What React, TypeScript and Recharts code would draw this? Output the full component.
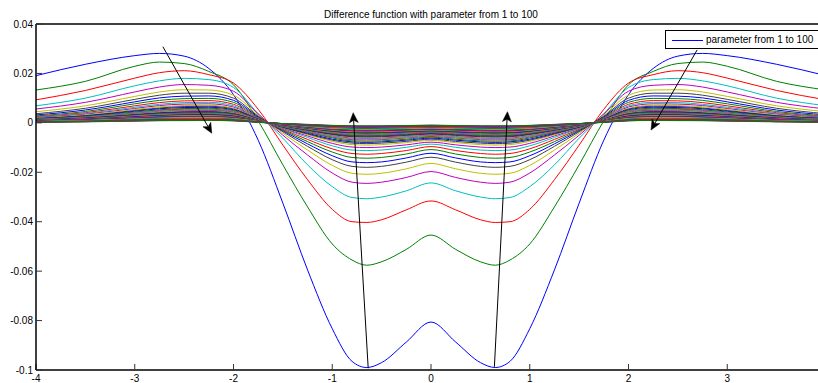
import React from 'react';
import { LineChart, Line, XAxis, YAxis, ReferenceLine, Legend } from 'recharts';

const FONT = '"Liberation Sans", Arial, sans-serif';
const TITLE = 'Difference function with parameter from 1 to 100';
const LEGEND_LABEL = 'parameter from 1 to 100';

const X = [-4, -3.5, -3, -2.75, -2.5, -2.25, -2, -1.75, -1.5, -1.25, -1, -0.8, -0.65, -0.5, -0.25, 0, 0.25, 0.5, 0.65, 0.8, 1, 1.25, 1.5, 1.75, 2, 2.25, 2.5, 2.75, 3, 3.5, 4];
// x = 4 lies just outside the visible picture, so only -4..3 carry labels
const X_TICKS = [-4, -3, -2, -1, 0, 1, 2, 3];
const X_TICKS_TOP = [-4, -3, -2, -1, 0, 1, 2, 3, 4];
const Y_TICKS = [-0.1, -0.08, -0.06, -0.04, -0.02, 0, 0.02, 0.04];

const p1 = [0.0191, 0.0237, 0.0272, 0.0281, 0.0270, 0.0220, 0.0114, -0.0070, -0.0325, -0.0595, -0.0833, -0.0965, -0.0990, -0.0970, -0.0887, -0.0806, -0.0887, -0.0970, -0.0990, -0.0965, -0.0833, -0.0595, -0.0325, -0.0070, 0.0114, 0.0220, 0.0270, 0.0281, 0.0272, 0.0237, 0.0191];
const p2 = [0.0133, 0.0168, 0.0229, 0.0246, 0.0240, 0.0208, 0.0154, 0.0008, -0.0170, -0.0340, -0.0490, -0.0555, -0.0576, -0.0562, -0.0512, -0.0454, -0.0512, -0.0562, -0.0576, -0.0555, -0.0490, -0.0340, -0.0170, 0.0008, 0.0154, 0.0208, 0.0240, 0.0246, 0.0229, 0.0168, 0.0133];
const p3 = [0.0093, 0.0131, 0.0181, 0.0203, 0.0211, 0.0195, 0.0161, 0.0055, -0.0090, -0.0230, -0.0350, -0.0400, -0.0403, -0.0392, -0.0352, -0.0316, -0.0352, -0.0392, -0.0403, -0.0400, -0.0350, -0.0230, -0.0090, 0.0055, 0.0161, 0.0195, 0.0211, 0.0203, 0.0181, 0.0131, 0.0093];
const p4 = [0.0069, 0.0100, 0.0150, 0.0170, 0.0180, 0.0175, 0.0143, 0.0037, -0.0062, -0.0170, -0.0258, -0.0302, -0.0307, -0.0300, -0.0275, -0.0243, -0.0275, -0.0300, -0.0307, -0.0302, -0.0258, -0.0170, -0.0062, 0.0037, 0.0143, 0.0175, 0.0180, 0.0170, 0.0150, 0.0100, 0.0069];
const p5 = [0.0056, 0.0083, 0.0125, 0.0145, 0.0155, 0.0152, 0.0128, 0.0036, -0.0050, -0.0130, -0.0203, -0.0240, -0.0245, -0.0240, -0.0221, -0.0197, -0.0221, -0.0240, -0.0245, -0.0240, -0.0203, -0.0130, -0.0050, 0.0036, 0.0128, 0.0152, 0.0155, 0.0145, 0.0125, 0.0083, 0.0056];
const p6 = [0.0045, 0.0069, 0.0107, 0.0125, 0.0134, 0.0133, 0.0112, 0.0031, -0.0042, -0.0110, -0.0172, -0.0204, -0.0208, -0.0204, -0.0186, -0.0164, -0.0186, -0.0204, -0.0208, -0.0204, -0.0172, -0.0110, -0.0042, 0.0031, 0.0112, 0.0133, 0.0134, 0.0125, 0.0107, 0.0069, 0.0045];
const p7 = [0.0037, 0.0059, 0.0095, 0.0112, 0.0120, 0.0120, 0.0100, 0.0027, -0.0036, -0.0095, -0.0149, -0.0176, -0.0180, -0.0176, -0.0159, -0.0139, -0.0159, -0.0176, -0.0180, -0.0176, -0.0149, -0.0095, -0.0036, 0.0027, 0.0100, 0.0120, 0.0120, 0.0112, 0.0095, 0.0059, 0.0037];
const p8 = [0.0032, 0.0052, 0.0085, 0.0101, 0.0108, 0.0109, 0.0091, 0.0024, -0.0032, -0.0085, -0.0133, -0.0158, -0.0161, -0.0158, -0.0142, -0.0123, -0.0142, -0.0158, -0.0161, -0.0158, -0.0133, -0.0085, -0.0032, 0.0024, 0.0091, 0.0109, 0.0108, 0.0101, 0.0085, 0.0052, 0.0032];
const p9 = [0.0028, 0.0046, 0.0077, 0.0091, 0.0098, 0.0099, 0.0083, 0.0021, -0.0029, -0.0076, -0.0118, -0.0140, -0.0143, -0.0140, -0.0126, -0.0108, -0.0126, -0.0140, -0.0143, -0.0140, -0.0118, -0.0076, -0.0029, 0.0021, 0.0083, 0.0099, 0.0098, 0.0091, 0.0077, 0.0046, 0.0028];
const p10 = [0.0025, 0.0041, 0.0069, 0.0082, 0.0089, 0.0090, 0.0075, 0.0019, -0.0026, -0.0067, -0.0105, -0.0124, -0.0127, -0.0124, -0.0112, -0.0096, -0.0112, -0.0124, -0.0127, -0.0124, -0.0105, -0.0067, -0.0026, 0.0019, 0.0075, 0.0090, 0.0089, 0.0082, 0.0069, 0.0041, 0.0025];
const p11 = [0.0023, 0.0038, 0.0063, 0.0075, 0.0082, 0.0083, 0.0069, 0.0017, -0.0023, -0.0059, -0.0093, -0.0110, -0.0112, -0.0110, -0.0099, -0.0086, -0.0099, -0.0110, -0.0112, -0.0110, -0.0093, -0.0059, -0.0023, 0.0017, 0.0069, 0.0083, 0.0082, 0.0075, 0.0063, 0.0038, 0.0023];
const p12 = [0.0021, 0.0035, 0.0058, 0.0070, 0.0076, 0.0077, 0.0064, 0.0016, -0.0021, -0.0053, -0.0083, -0.0098, -0.0100, -0.0098, -0.0089, -0.0078, -0.0089, -0.0098, -0.0100, -0.0098, -0.0083, -0.0053, -0.0021, 0.0016, 0.0064, 0.0077, 0.0076, 0.0070, 0.0058, 0.0035, 0.0021];
const p13 = [0.0019, 0.0032, 0.0054, 0.0065, 0.0070, 0.0071, 0.0059, 0.0015, -0.0019, -0.0048, -0.0075, -0.0088, -0.0090, -0.0088, -0.0080, -0.0071, -0.0080, -0.0088, -0.0090, -0.0088, -0.0075, -0.0048, -0.0019, 0.0015, 0.0059, 0.0071, 0.0070, 0.0065, 0.0054, 0.0032, 0.0019];
const p14 = [0.0018, 0.0029, 0.0050, 0.0060, 0.0066, 0.0067, 0.0056, 0.0015, -0.0018, -0.0045, -0.0070, -0.0082, -0.0084, -0.0082, -0.0075, -0.0066, -0.0075, -0.0082, -0.0084, -0.0082, -0.0070, -0.0045, -0.0018, 0.0015, 0.0056, 0.0067, 0.0066, 0.0060, 0.0050, 0.0029, 0.0018];
const p15 = [0.0017, 0.0028, 0.0047, 0.0057, 0.0062, 0.0063, 0.0053, 0.0014, -0.0017, -0.0042, -0.0066, -0.0077, -0.0079, -0.0077, -0.0070, -0.0062, -0.0070, -0.0077, -0.0079, -0.0077, -0.0066, -0.0042, -0.0017, 0.0014, 0.0053, 0.0063, 0.0062, 0.0057, 0.0047, 0.0028, 0.0017];
const p16 = [0.0016, 0.0026, 0.0044, 0.0053, 0.0058, 0.0059, 0.0050, 0.0013, -0.0016, -0.0039, -0.0061, -0.0073, -0.0074, -0.0073, -0.0066, -0.0058, -0.0066, -0.0073, -0.0074, -0.0073, -0.0061, -0.0039, -0.0016, 0.0013, 0.0050, 0.0059, 0.0058, 0.0053, 0.0044, 0.0026, 0.0016];
const p17 = [0.0014, 0.0024, 0.0041, 0.0050, 0.0055, 0.0055, 0.0046, 0.0012, -0.0014, -0.0037, -0.0057, -0.0068, -0.0069, -0.0068, -0.0061, -0.0055, -0.0061, -0.0068, -0.0069, -0.0068, -0.0057, -0.0037, -0.0014, 0.0012, 0.0046, 0.0055, 0.0055, 0.0050, 0.0041, 0.0024, 0.0014];
const p18 = [0.0014, 0.0023, 0.0040, 0.0048, 0.0052, 0.0053, 0.0044, 0.0012, -0.0014, -0.0035, -0.0055, -0.0065, -0.0066, -0.0065, -0.0059, -0.0052, -0.0059, -0.0065, -0.0066, -0.0065, -0.0055, -0.0035, -0.0014, 0.0012, 0.0044, 0.0053, 0.0052, 0.0048, 0.0040, 0.0023, 0.0014];
const p19 = [0.0013, 0.0022, 0.0037, 0.0045, 0.0049, 0.0050, 0.0042, 0.0011, -0.0013, -0.0033, -0.0051, -0.0061, -0.0062, -0.0061, -0.0055, -0.0049, -0.0055, -0.0061, -0.0062, -0.0061, -0.0051, -0.0033, -0.0013, 0.0011, 0.0042, 0.0050, 0.0049, 0.0045, 0.0037, 0.0022, 0.0013];
const p20 = [0.0012, 0.0021, 0.0035, 0.0043, 0.0047, 0.0047, 0.0040, 0.0011, -0.0012, -0.0031, -0.0049, -0.0058, -0.0059, -0.0058, -0.0053, -0.0047, -0.0053, -0.0058, -0.0059, -0.0058, -0.0049, -0.0031, -0.0012, 0.0011, 0.0040, 0.0047, 0.0047, 0.0043, 0.0035, 0.0021, 0.0012];
const p21 = [0.0012, 0.0020, 0.0034, 0.0041, 0.0045, 0.0046, 0.0038, 0.0010, -0.0012, -0.0030, -0.0047, -0.0056, -0.0057, -0.0056, -0.0051, -0.0045, -0.0051, -0.0056, -0.0057, -0.0056, -0.0047, -0.0030, -0.0012, 0.0010, 0.0038, 0.0046, 0.0045, 0.0041, 0.0034, 0.0020, 0.0012];
const p22 = [0.0011, 0.0019, 0.0032, 0.0039, 0.0043, 0.0043, 0.0036, 0.0010, -0.0011, -0.0029, -0.0045, -0.0053, -0.0054, -0.0053, -0.0048, -0.0043, -0.0048, -0.0053, -0.0054, -0.0053, -0.0045, -0.0029, -0.0011, 0.0010, 0.0036, 0.0043, 0.0043, 0.0039, 0.0032, 0.0019, 0.0011];
const p23 = [0.0011, 0.0018, 0.0031, 0.0037, 0.0041, 0.0042, 0.0035, 0.0009, -0.0011, -0.0028, -0.0043, -0.0051, -0.0052, -0.0051, -0.0046, -0.0041, -0.0046, -0.0051, -0.0052, -0.0051, -0.0043, -0.0028, -0.0011, 0.0009, 0.0035, 0.0042, 0.0041, 0.0037, 0.0031, 0.0018, 0.0011];
const p24 = [0.0010, 0.0017, 0.0029, 0.0035, 0.0039, 0.0039, 0.0033, 0.0009, -0.0010, -0.0026, -0.0041, -0.0048, -0.0049, -0.0048, -0.0044, -0.0039, -0.0044, -0.0048, -0.0049, -0.0048, -0.0041, -0.0026, -0.0010, 0.0009, 0.0033, 0.0039, 0.0039, 0.0035, 0.0029, 0.0017, 0.0010];
const p25 = [0.0010, 0.0016, 0.0028, 0.0034, 0.0037, 0.0038, 0.0031, 0.0008, -0.0010, -0.0025, -0.0039, -0.0046, -0.0047, -0.0046, -0.0042, -0.0037, -0.0042, -0.0046, -0.0047, -0.0046, -0.0039, -0.0025, -0.0010, 0.0008, 0.0031, 0.0038, 0.0037, 0.0034, 0.0028, 0.0016, 0.0010];
const p26 = [0.0009, 0.0016, 0.0027, 0.0032, 0.0036, 0.0036, 0.0030, 0.0008, -0.0009, -0.0024, -0.0037, -0.0044, -0.0045, -0.0044, -0.0040, -0.0036, -0.0040, -0.0044, -0.0045, -0.0044, -0.0037, -0.0024, -0.0009, 0.0008, 0.0030, 0.0036, 0.0036, 0.0032, 0.0027, 0.0016, 0.0009];
const p27 = [0.0009, 0.0015, 0.0026, 0.0031, 0.0034, 0.0034, 0.0029, 0.0008, -0.0009, -0.0023, -0.0036, -0.0042, -0.0043, -0.0042, -0.0038, -0.0034, -0.0038, -0.0042, -0.0043, -0.0042, -0.0036, -0.0023, -0.0009, 0.0008, 0.0029, 0.0034, 0.0034, 0.0031, 0.0026, 0.0015, 0.0009];
const p28 = [0.0009, 0.0015, 0.0025, 0.0030, 0.0033, 0.0034, 0.0028, 0.0008, -0.0009, -0.0022, -0.0035, -0.0041, -0.0042, -0.0041, -0.0037, -0.0033, -0.0037, -0.0041, -0.0042, -0.0041, -0.0035, -0.0022, -0.0009, 0.0008, 0.0028, 0.0034, 0.0033, 0.0030, 0.0025, 0.0015, 0.0009];
const p29 = [0.0008, 0.0014, 0.0024, 0.0029, 0.0032, 0.0032, 0.0027, 0.0007, -0.0008, -0.0021, -0.0033, -0.0039, -0.0040, -0.0039, -0.0036, -0.0032, -0.0036, -0.0039, -0.0040, -0.0039, -0.0033, -0.0021, -0.0008, 0.0007, 0.0027, 0.0032, 0.0032, 0.0029, 0.0024, 0.0014, 0.0008];
const p30 = [0.0008, 0.0014, 0.0023, 0.0028, 0.0031, 0.0031, 0.0026, 0.0007, -0.0008, -0.0021, -0.0032, -0.0038, -0.0039, -0.0038, -0.0035, -0.0031, -0.0035, -0.0038, -0.0039, -0.0038, -0.0032, -0.0021, -0.0008, 0.0007, 0.0026, 0.0031, 0.0031, 0.0028, 0.0023, 0.0014, 0.0008];
const p33 = [0.0008, 0.0013, 0.0022, 0.0026, 0.0028, 0.0029, 0.0024, 0.0006, -0.0008, -0.0019, -0.0030, -0.0035, -0.0036, -0.0035, -0.0032, -0.0028, -0.0032, -0.0035, -0.0036, -0.0035, -0.0030, -0.0019, -0.0008, 0.0006, 0.0024, 0.0029, 0.0028, 0.0026, 0.0022, 0.0013, 0.0008];
const p34 = [0.0007, 0.0012, 0.0021, 0.0025, 0.0028, 0.0028, 0.0023, 0.0006, -0.0007, -0.0019, -0.0029, -0.0034, -0.0035, -0.0034, -0.0031, -0.0028, -0.0031, -0.0034, -0.0035, -0.0034, -0.0029, -0.0019, -0.0007, 0.0006, 0.0023, 0.0028, 0.0028, 0.0025, 0.0021, 0.0012, 0.0007];
const p36 = [0.0007, 0.0012, 0.0020, 0.0024, 0.0026, 0.0026, 0.0022, 0.0006, -0.0007, -0.0018, -0.0027, -0.0032, -0.0033, -0.0032, -0.0029, -0.0026, -0.0029, -0.0032, -0.0033, -0.0032, -0.0027, -0.0018, -0.0007, 0.0006, 0.0022, 0.0026, 0.0026, 0.0024, 0.0020, 0.0012, 0.0007];
const p38 = [0.0007, 0.0011, 0.0019, 0.0022, 0.0024, 0.0025, 0.0021, 0.0006, -0.0007, -0.0016, -0.0026, -0.0030, -0.0031, -0.0030, -0.0028, -0.0024, -0.0028, -0.0030, -0.0031, -0.0030, -0.0026, -0.0016, -0.0007, 0.0006, 0.0021, 0.0025, 0.0024, 0.0022, 0.0019, 0.0011, 0.0007];
const p40 = [0.0006, 0.0011, 0.0018, 0.0022, 0.0024, 0.0024, 0.0020, 0.0005, -0.0006, -0.0016, -0.0025, -0.0029, -0.0030, -0.0029, -0.0027, -0.0024, -0.0027, -0.0029, -0.0030, -0.0029, -0.0025, -0.0016, -0.0006, 0.0005, 0.0020, 0.0024, 0.0024, 0.0022, 0.0018, 0.0011, 0.0006];
const p42 = [0.0006, 0.0010, 0.0017, 0.0020, 0.0022, 0.0022, 0.0019, 0.0005, -0.0006, -0.0015, -0.0023, -0.0027, -0.0028, -0.0027, -0.0025, -0.0022, -0.0025, -0.0027, -0.0028, -0.0027, -0.0023, -0.0015, -0.0006, 0.0005, 0.0019, 0.0022, 0.0022, 0.0020, 0.0017, 0.0010, 0.0006];
const p44 = [0.0006, 0.0009, 0.0016, 0.0019, 0.0021, 0.0022, 0.0018, 0.0005, -0.0006, -0.0014, -0.0022, -0.0026, -0.0027, -0.0026, -0.0024, -0.0021, -0.0024, -0.0026, -0.0027, -0.0026, -0.0022, -0.0014, -0.0006, 0.0005, 0.0018, 0.0022, 0.0021, 0.0019, 0.0016, 0.0009, 0.0006];
const p46 = [0.0005, 0.0009, 0.0016, 0.0019, 0.0021, 0.0021, 0.0017, 0.0005, -0.0005, -0.0014, -0.0022, -0.0025, -0.0026, -0.0025, -0.0023, -0.0021, -0.0023, -0.0025, -0.0026, -0.0025, -0.0022, -0.0014, -0.0005, 0.0005, 0.0017, 0.0021, 0.0021, 0.0019, 0.0016, 0.0009, 0.0005];
const p48 = [0.0005, 0.0009, 0.0015, 0.0018, 0.0020, 0.0020, 0.0017, 0.0005, -0.0005, -0.0013, -0.0021, -0.0024, -0.0025, -0.0024, -0.0022, -0.0020, -0.0022, -0.0024, -0.0025, -0.0024, -0.0021, -0.0013, -0.0005, 0.0005, 0.0017, 0.0020, 0.0020, 0.0018, 0.0015, 0.0009, 0.0005];
const p51 = [0.0005, 0.0008, 0.0014, 0.0017, 0.0018, 0.0018, 0.0015, 0.0004, -0.0005, -0.0012, -0.0019, -0.0022, -0.0023, -0.0022, -0.0020, -0.0018, -0.0020, -0.0022, -0.0023, -0.0022, -0.0019, -0.0012, -0.0005, 0.0004, 0.0015, 0.0018, 0.0018, 0.0017, 0.0014, 0.0008, 0.0005];
const p53 = [0.0005, 0.0008, 0.0013, 0.0016, 0.0017, 0.0018, 0.0015, 0.0004, -0.0005, -0.0012, -0.0018, -0.0021, -0.0022, -0.0021, -0.0020, -0.0017, -0.0020, -0.0021, -0.0022, -0.0021, -0.0018, -0.0012, -0.0005, 0.0004, 0.0015, 0.0018, 0.0017, 0.0016, 0.0013, 0.0008, 0.0005];
const p56 = [0.0004, 0.0007, 0.0013, 0.0015, 0.0017, 0.0017, 0.0014, 0.0004, -0.0004, -0.0011, -0.0017, -0.0020, -0.0021, -0.0020, -0.0019, -0.0017, -0.0019, -0.0020, -0.0021, -0.0020, -0.0017, -0.0011, -0.0004, 0.0004, 0.0014, 0.0017, 0.0017, 0.0015, 0.0013, 0.0007, 0.0004];
const p59 = [0.0004, 0.0007, 0.0012, 0.0014, 0.0016, 0.0016, 0.0013, 0.0004, -0.0004, -0.0011, -0.0017, -0.0019, -0.0020, -0.0019, -0.0018, -0.0016, -0.0018, -0.0019, -0.0020, -0.0019, -0.0017, -0.0011, -0.0004, 0.0004, 0.0013, 0.0016, 0.0016, 0.0014, 0.0012, 0.0007, 0.0004];
const p62 = [0.0004, 0.0007, 0.0011, 0.0014, 0.0015, 0.0015, 0.0013, 0.0003, -0.0004, -0.0010, -0.0016, -0.0018, -0.0019, -0.0018, -0.0017, -0.0015, -0.0017, -0.0018, -0.0019, -0.0018, -0.0016, -0.0010, -0.0004, 0.0003, 0.0013, 0.0015, 0.0015, 0.0014, 0.0011, 0.0007, 0.0004];
const p64 = [0.0004, 0.0006, 0.0011, 0.0013, 0.0014, 0.0014, 0.0012, 0.0003, -0.0004, -0.0010, -0.0015, -0.0017, -0.0018, -0.0017, -0.0016, -0.0014, -0.0016, -0.0017, -0.0018, -0.0017, -0.0015, -0.0010, -0.0004, 0.0003, 0.0012, 0.0014, 0.0014, 0.0013, 0.0011, 0.0006, 0.0004];
const p68 = [0.0004, 0.0006, 0.0010, 0.0012, 0.0013, 0.0014, 0.0011, 0.0003, -0.0004, -0.0009, -0.0014, -0.0016, -0.0017, -0.0016, -0.0015, -0.0013, -0.0015, -0.0016, -0.0017, -0.0016, -0.0014, -0.0009, -0.0004, 0.0003, 0.0011, 0.0014, 0.0013, 0.0012, 0.0010, 0.0006, 0.0004];
const p72 = [0.0003, 0.0006, 0.0010, 0.0012, 0.0013, 0.0013, 0.0011, 0.0003, -0.0003, -0.0008, -0.0013, -0.0015, -0.0016, -0.0015, -0.0014, -0.0013, -0.0014, -0.0015, -0.0016, -0.0015, -0.0013, -0.0008, -0.0003, 0.0003, 0.0011, 0.0013, 0.0013, 0.0012, 0.0010, 0.0006, 0.0003];
const p80 = [0.0003, 0.0005, 0.0009, 0.0011, 0.0012, 0.0012, 0.0010, 0.0003, -0.0003, -0.0008, -0.0012, -0.0014, -0.0015, -0.0014, -0.0013, -0.0012, -0.0013, -0.0014, -0.0015, -0.0014, -0.0012, -0.0008, -0.0003, 0.0003, 0.0010, 0.0012, 0.0012, 0.0011, 0.0009, 0.0005, 0.0003];
const p84 = [0.0003, 0.0005, 0.0008, 0.0010, 0.0011, 0.0011, 0.0009, 0.0003, -0.0003, -0.0007, -0.0012, -0.0014, -0.0014, -0.0014, -0.0012, -0.0011, -0.0012, -0.0014, -0.0014, -0.0014, -0.0012, -0.0007, -0.0003, 0.0003, 0.0009, 0.0011, 0.0011, 0.0010, 0.0008, 0.0005, 0.0003];
const p89 = [0.0003, 0.0005, 0.0008, 0.0009, 0.0010, 0.0010, 0.0009, 0.0002, -0.0003, -0.0007, -0.0011, -0.0013, -0.0013, -0.0013, -0.0012, -0.0010, -0.0012, -0.0013, -0.0013, -0.0013, -0.0011, -0.0007, -0.0003, 0.0002, 0.0009, 0.0010, 0.0010, 0.0009, 0.0008, 0.0005, 0.0003];
const p100 = [0.0003, 0.0004, 0.0007, 0.0009, 0.0009, 0.0010, 0.0008, 0.0002, -0.0003, -0.0006, -0.0010, -0.0012, -0.0012, -0.0012, -0.0011, -0.0009, -0.0011, -0.0012, -0.0012, -0.0012, -0.0010, -0.0006, -0.0003, 0.0002, 0.0008, 0.0010, 0.0009, 0.0009, 0.0007, 0.0004, 0.0003];

const SERIES = [
  { param: 1, values: p1 }, { param: 2, values: p2 }, { param: 3, values: p3 },
  { param: 4, values: p4 }, { param: 5, values: p5 }, { param: 6, values: p6 },
  { param: 7, values: p7 }, { param: 8, values: p8 }, { param: 9, values: p9 },
  { param: 10, values: p10 }, { param: 11, values: p11 }, { param: 12, values: p12 },
  { param: 13, values: p13 }, { param: 14, values: p14 }, { param: 15, values: p15 },
  { param: 16, values: p16 }, { param: 17, values: p17 }, { param: 18, values: p18 },
  { param: 19, values: p19 }, { param: 20, values: p20 }, { param: 21, values: p21 },
  { param: 22, values: p22 }, { param: 23, values: p23 }, { param: 24, values: p24 },
  { param: 25, values: p25 }, { param: 26, values: p26 }, { param: 27, values: p27 },
  { param: 28, values: p28 }, { param: 29, values: p29 }, { param: 30, values: p30 },
  { param: 33, values: p33 }, { param: 34, values: p34 }, { param: 36, values: p36 },
  { param: 38, values: p38 }, { param: 40, values: p40 }, { param: 42, values: p42 },
  { param: 44, values: p44 }, { param: 46, values: p46 }, { param: 48, values: p48 },
  { param: 51, values: p51 }, { param: 53, values: p53 }, { param: 56, values: p56 },
  { param: 59, values: p59 }, { param: 62, values: p62 }, { param: 64, values: p64 },
  { param: 68, values: p68 }, { param: 72, values: p72 }, { param: 80, values: p80 },
  { param: 84, values: p84 }, { param: 89, values: p89 }, { param: 100, values: p100 },
];

// MATLAB default colour order
const COLORS = ['#0000ff', '#008000', '#ff0000', '#00bfbf', '#bf00bf', '#bfbf00', '#404040'];

// annotation arrows in data coordinates (tail -> head)
const ARROWS = [
  { from: { x: -2.715, y: 0.0308 }, to: { x: -2.22, y: -0.0042 } },
  { from: { x: -0.636, y: -0.0993 }, to: { x: -0.788, y: 0.0041 } },
  { from: { x: 0.642, y: -0.0987 }, to: { x: 0.774, y: 0.0045 } },
  { from: { x: 2.695, y: 0.0295 }, to: { x: 2.228, y: -0.0029 } },
];

const data = X.map((x, i) => {
  const row: Record<string, number> = { x };
  SERIES.forEach((s) => {
    row['p' + s.param] = s.values[i];
  });
  return row;
});

const ArrowShape = (props: any) => {
  const { x1, y1, x2, y2 } = props;
  const dx = x2 - x1;
  const dy = y2 - y1;
  const len = Math.hypot(dx, dy) || 1;
  const ux = dx / len;
  const uy = dy / len;
  const px = -uy;
  const py = ux;
  const L = 10;
  const W = 4.5;
  const N = 2.5;
  const bx = x2 - ux * L;
  const by = y2 - uy * L;
  const nx = x2 - ux * (L - N);
  const ny = y2 - uy * (L - N);
  const pts = `${x2},${y2} ${bx + px * W},${by + py * W} ${nx},${ny} ${bx - px * W},${by - py * W}`;
  return (
    <g>
      <line x1={x1} y1={y1} x2={nx} y2={ny} stroke="#000" strokeWidth={1} />
      <polygon points={pts} fill="#000" stroke="#000" strokeWidth={0.5} />
    </g>
  );
};

const LegendBox = (props: any) => {
  const list = props.payload || [];
  const item = list.find((p: any) => p.value === LEGEND_LABEL) || list[0];
  if (!item) return null;
  return (
    <div
      style={{
        width: 160,
        height: 19,
        boxSizing: 'border-box',
        border: '1px solid #000',
        background: '#fff',
        display: 'flex',
        alignItems: 'center',
        fontFamily: FONT,
        fontSize: 10,
        color: '#000',
        whiteSpace: 'nowrap',
      }}
    >
      <svg width={40} height={17} style={{ display: 'block', flex: 'none' }}>
        <line x1={6} x2={37} y1={9.5} y2={9.5} stroke={item.color} strokeWidth={1} />
      </svg>
      <span>{item.value}</span>
    </div>
  );
};

export default function App() {
  const tickStyle = { fontSize: 10, fill: '#000', fontFamily: FONT };
  return (
    <div
      style={{
        position: 'fixed',
        left: 0,
        top: 0,
        width: 818,
        height: 383,
        overflow: 'hidden',
        background: '#fff',
      }}
    >
      <div
        style={{
          position: 'absolute',
          left: 0,
          top: 9,
          width: 862,
          textAlign: 'center',
          fontFamily: FONT,
          fontSize: 10,
          lineHeight: '11px',
          color: '#000',
          zIndex: 2,
        }}
      >
        {TITLE}
      </div>
      <LineChart width={830} height={383} data={data} margin={{ top: 23, right: 4, bottom: 0, left: 0 }}>
        <XAxis
          dataKey="x"
          type="number"
          domain={[-4, 4]}
          ticks={X_TICKS}
          interval={0}
          allowDataOverflow
          height={13}
          tickSize={-6}
          tickMargin={11}
          axisLine={{ stroke: '#000', strokeWidth: 1.5 }}
          tickLine={{ stroke: '#333', strokeWidth: 1 }}
          tick={tickStyle}
        />
        <XAxis
          xAxisId="top"
          orientation="top"
          dataKey="x"
          type="number"
          domain={[-4, 4]}
          ticks={X_TICKS_TOP}
          interval={0}
          allowDataOverflow
          height={1}
          tickSize={-6}
          tick={false}
          axisLine={{ stroke: '#000', strokeWidth: 1.5 }}
          tickLine={{ stroke: '#333', strokeWidth: 1 }}
        />
        <YAxis
          type="number"
          domain={[-0.1, 0.04]}
          ticks={Y_TICKS}
          interval={0}
          allowDataOverflow
          width={36}
          tickSize={-6}
          tickMargin={9}
          axisLine={{ stroke: '#000', strokeWidth: 1.5 }}
          tickLine={{ stroke: '#333', strokeWidth: 1 }}
          tick={tickStyle}
        />
        {SERIES.map((s, i) => (
          <Line
            key={s.param}
            dataKey={'p' + s.param}
            name={i === 0 ? LEGEND_LABEL : 'p' + s.param}
            legendType={i === 0 ? 'line' : 'none'}
            type="monotone"
            stroke={COLORS[(s.param - 1) % COLORS.length]}
            strokeWidth={1}
            dot={false}
            activeDot={false}
            isAnimationActive={false}
          />
        ))}
        {ARROWS.map((a, i) => (
          <ReferenceLine
            key={'arrow' + i}
            segment={[a.from, a.to]}
            ifOverflow="visible"
            shape={ArrowShape}
          />
        ))}
        <Legend
          layout="horizontal"
          verticalAlign="middle"
          align="center"
          content={LegendBox}
          wrapperStyle={{ position: 'absolute', left: 665, top: 30, width: 160, height: 19, margin: 0, padding: 0 }}
        />
      </LineChart>
    </div>
  );
}
